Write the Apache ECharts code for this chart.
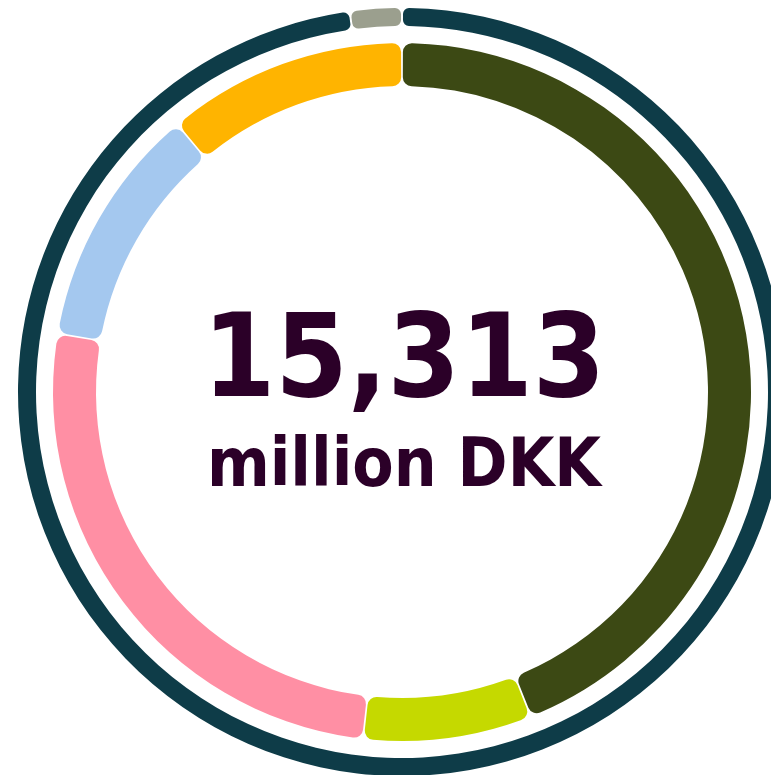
<!DOCTYPE html>
<html>
<head>
<meta charset="utf-8">
<script src="https://cdn.jsdelivr.net/npm/echarts@6/dist/echarts.min.js"></script>
<style>
html,body{margin:0;padding:0;background:#fff;}
#chart{width:771px;height:775px;}
</style>
</head>
<body>
<div id="chart"></div>
<script>
// Inner ring (clockwise from 12 o'clock)
const innerNames = ['Segment A', 'Segment B', 'Segment C', 'Segment D', 'Segment E'];
const innerValues = [6735, 1195, 3965, 1715, 1703];
const innerColors = ['#3c4914', '#c5d900', '#ff8fa4', '#a4c8ef', '#ffb400'];
// Outer ring (clockwise from 12 o'clock)
const outerNames = ['Main', 'Other'];
const outerValues = [14980, 333];
const outerColors = ['#0e3c48', '#9b9f8e'];
// Centre text
const totalLabel = '15,313';
const unitLabel = 'million DKK';

const chart = echarts.init(document.getElementById('chart'), null, {renderer: 'canvas'});
const center = [402, 392];
chart.setOption({
  animation: false,
  backgroundColor: '#ffffff',
  series: [
    {
      type: 'pie',
      center: center,
      radius: [306, 349],
      startAngle: 90,
      clockwise: true,
      padAngle: 0.3,
      silent: true,
      label: {show: false},
      labelLine: {show: false},
      itemStyle: {borderRadius: 9},
      data: innerValues.map((v, i) => ({name: innerNames[i], value: v, itemStyle: {color: innerColors[i]}}))
    },
    {
      type: 'pie',
      center: center,
      radius: [366, 384],
      startAngle: 90,
      clockwise: true,
      padAngle: 0.3,
      silent: true,
      label: {show: false},
      labelLine: {show: false},
      itemStyle: {borderRadius: 6},
      data: outerValues.map((v, i) => ({name: outerNames[i], value: v, itemStyle: {color: outerColors[i]}}))
    }
  ],
  graphic: [
    {
      type: 'text',
      x: 404,
      y: 308,
      style: {
        text: totalLabel,
        textAlign: 'center',
        textVerticalAlign: 'top',
        fill: '#2b0028',
        font: 'bold 116px "DejaVu Sans Condensed", "DejaVu Sans", sans-serif'
      }
    },
    {
      type: 'text',
      x: 404,
      y: 435,
      style: {
        text: unitLabel,
        textAlign: 'center',
        textVerticalAlign: 'top',
        fill: '#2b0028',
        font: 'bold 67px "DejaVu Sans Condensed", "DejaVu Sans", sans-serif'
      }
    }
  ]
});
</script>
</body>
</html>
